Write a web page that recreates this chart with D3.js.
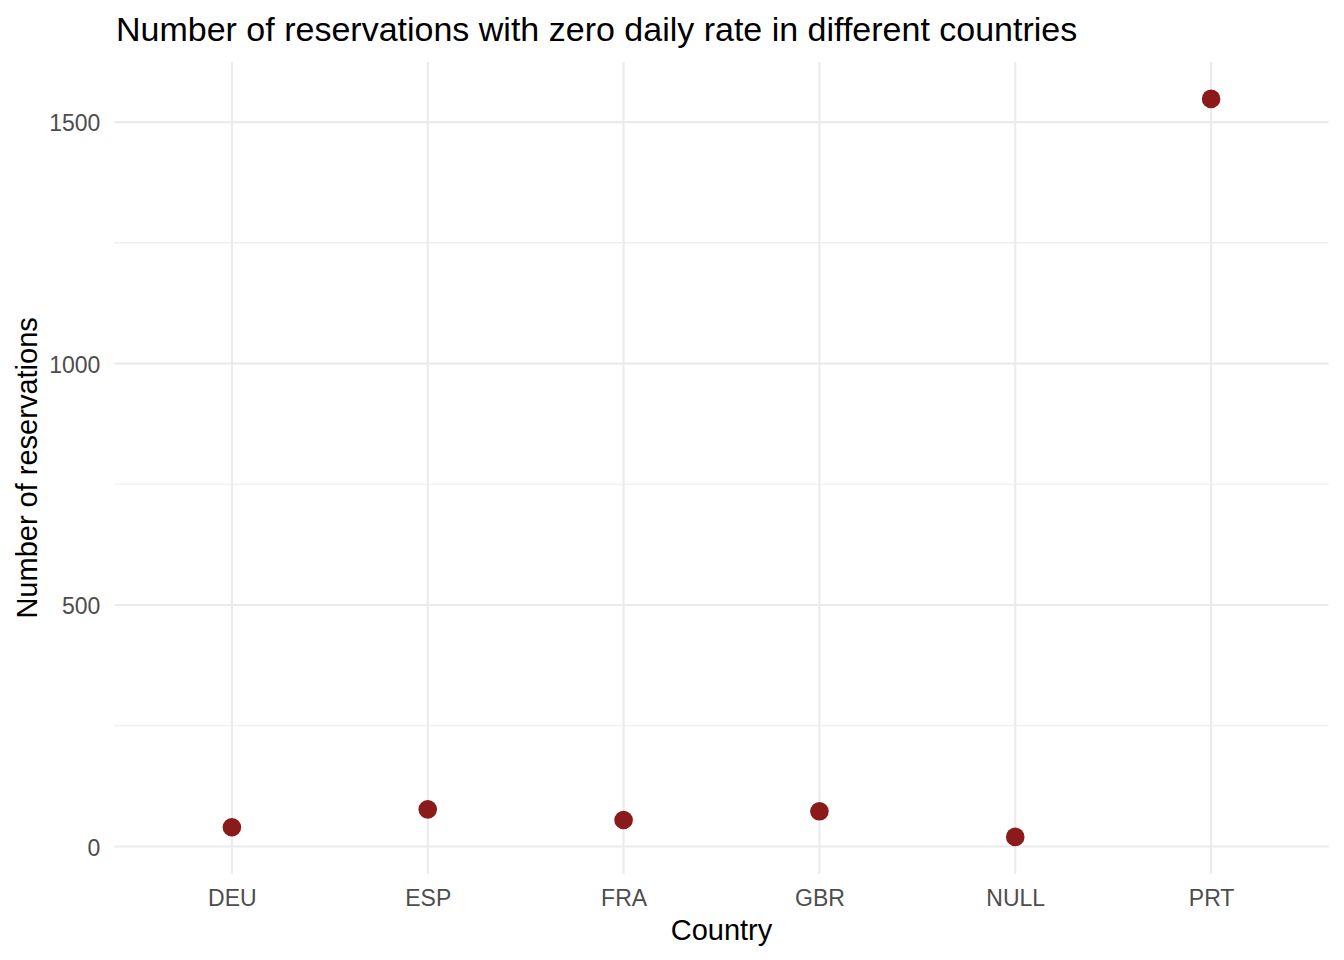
<!DOCTYPE html>
<html>
<head>
<meta charset="utf-8">
<script src="https://cdn.jsdelivr.net/npm/d3@7"></script>
<style>
  body { margin: 0; background: #fff; }
  svg { font-family: "Liberation Sans", Arial, sans-serif; }
</style>
</head>
<body>
<svg width="1344" height="960"></svg>
<script>
var countries = ["DEU", "ESP", "FRA", "GBR", "NULL", "PRT"];
var reservations = [40, 77, 55, 73, 20, 1548];
var yTicks = [0, 500, 1000, 1500];
var yMinor = [250, 750, 1250];

var svg = d3.select("svg");
var pLeft = 114.4, pRight = 1328.6, pTop = 62, pBottom = 873.8;

// discrete scale with ggplot's 0.6 expansion
var x = d3.scalePoint()
    .domain(countries)
    .range([pLeft, pRight])
    .padding(0.6);

var lo = d3.min(reservations), hi = d3.max(reservations);
var pad = (hi - lo) * 0.05;
var y = d3.scaleLinear()
    .domain([lo - pad, hi + pad])
    .range([pBottom, pTop]);

var grid = svg.append("g");
grid.selectAll(".minor").data(yMinor).enter().append("line")
    .attr("x1", pLeft).attr("x2", pRight)
    .attr("y1", d => y(d)).attr("y2", d => y(d))
    .attr("stroke", "#ebebeb").attr("stroke-width", 1.1);
grid.selectAll(".major").data(yTicks).enter().append("line")
    .attr("x1", pLeft).attr("x2", pRight)
    .attr("y1", d => y(d)).attr("y2", d => y(d))
    .attr("stroke", "#ebebeb").attr("stroke-width", 2.1);
grid.selectAll(".vmajor").data(countries).enter().append("line")
    .attr("x1", d => x(d)).attr("x2", d => x(d))
    .attr("y1", pTop).attr("y2", pBottom)
    .attr("stroke", "#ebebeb").attr("stroke-width", 2.1);

var yAxis = d3.axisLeft(y).tickValues(yTicks).tickFormat(d3.format("d")).tickSize(0).tickPadding(14);
svg.append("g")
    .attr("transform", "translate(" + pLeft + ",1.5)")
    .call(yAxis)
    .call(g => g.select(".domain").remove())
    .selectAll("text")
    .attr("font-size", 23).attr("fill", "#4d4d4d")
    .attr("font-family", "Liberation Sans, Arial, sans-serif");

var xAxis = d3.axisBottom(x).tickSize(0).tickPadding(16);
svg.append("g")
    .attr("transform", "translate(0," + pBottom + ")")
    .call(xAxis)
    .call(g => g.select(".domain").remove())
    .selectAll("text")
    .attr("font-size", 23).attr("fill", "#4d4d4d")
    .attr("font-family", "Liberation Sans, Arial, sans-serif");

svg.selectAll(".pt").data(countries).enter().append("circle")
    .attr("cx", d => x(d))
    .attr("cy", (d, i) => y(reservations[i]))
    .attr("r", 9.3)
    .attr("fill", "#8b1a1a");

svg.append("text")
    .attr("x", 116).attr("y", 41)
    .attr("font-size", 34).attr("fill", "#000")
    .text("Number of reservations with zero daily rate in different countries");

svg.append("text")
    .attr("x", (pLeft + pRight) / 2).attr("y", 940)
    .attr("text-anchor", "middle")
    .attr("font-size", 29).attr("fill", "#000")
    .text("Country");

svg.append("text")
    .attr("transform", "translate(37," + (pTop + pBottom) / 2 + ") rotate(-90)")
    .attr("text-anchor", "middle")
    .attr("font-size", 29).attr("fill", "#000")
    .text("Number of reservations");
</script>
</body>
</html>
